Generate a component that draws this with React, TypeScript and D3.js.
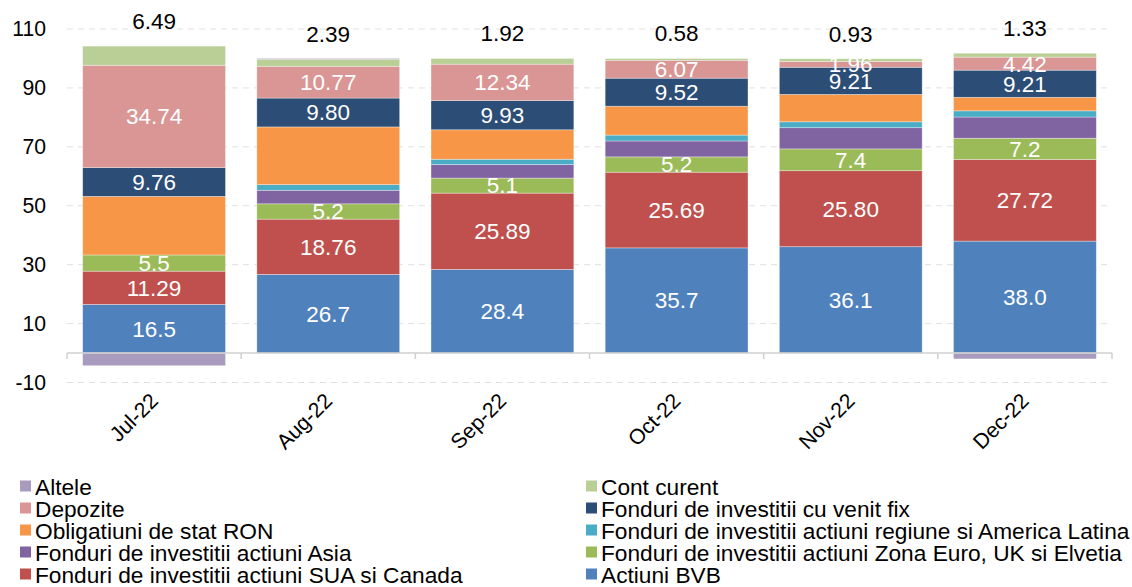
import React from "react";
import * as d3 from "d3";

const categories = ["Jul-22", "Aug-22", "Sep-22", "Oct-22", "Nov-22", "Dec-22"];

const seriesNames = [
  "Actiuni BVB",
  "Fonduri de investitii actiuni SUA si Canada",
  "Fonduri de investitii actiuni Zona Euro, UK si Elvetia",
  "Fonduri de investitii actiuni Asia",
  "Fonduri de investitii actiuni regiune si America Latina",
  "Obligatiuni de stat RON",
  "Fonduri de investitii cu venit fix",
  "Depozite",
  "Cont curent",
  "Altele",
];

const actiuniBVB = [16.5, 26.7, 28.4, 35.7, 36.1, 38.0];
const suaCanada = [11.29, 18.76, 25.89, 25.69, 25.8, 27.72];
const zonaEuro = [5.5, 5.2, 5.1, 5.2, 7.4, 7.2];
const asia = [0, 4.6, 4.6, 5.4, 7.2, 7.2];
const regiune = [0, 1.9, 1.8, 2.0, 2.0, 2.1];
const obligatiuni = [19.9, 19.6, 10.0, 9.8, 9.3, 4.6];
const venitFix = [9.76, 9.8, 9.93, 9.52, 9.21, 9.21];
const depozite = [34.74, 10.77, 12.34, 6.07, 1.96, 4.42];
const contCurent = [6.49, 2.39, 1.92, 0.58, 0.93, 1.33];
const altele = [-4.3, 0.3, 0, 0, 0, -2.0];

const yTicks = [-10, 10, 30, 50, 70, 90, 110];

const colors: Record<string, string> = {
  "Altele": "#a99bbd",
  "Cont curent": "#b9cf96",
  "Depozite": "#d99694",
  "Fonduri de investitii cu venit fix": "#2c4d75",
  "Obligatiuni de stat RON": "#f79646",
  "Fonduri de investitii actiuni regiune si America Latina": "#4bacc6",
  "Fonduri de investitii actiuni Asia": "#8064a2",
  "Fonduri de investitii actiuni Zona Euro, UK si Elvetia": "#9bbb59",
  "Fonduri de investitii actiuni SUA si Canada": "#c0504d",
  "Actiuni BVB": "#4f81bd",
};

const legendOrder = [
  "Altele", "Cont curent",
  "Depozite", "Fonduri de investitii cu venit fix",
  "Obligatiuni de stat RON", "Fonduri de investitii actiuni regiune si America Latina",
  "Fonduri de investitii actiuni Asia", "Fonduri de investitii actiuni Zona Euro, UK si Elvetia",
  "Fonduri de investitii actiuni SUA si Canada", "Actiuni BVB",
];

const seriesValues = [actiuniBVB, suaCanada, zonaEuro, asia, regiune, obligatiuni, venitFix, depozite, contCurent, altele];
// label decimals per series (null = no label)
const labelDecimals: (number | null)[] = [1, 2, 1, null, null, null, 2, 2, null, null];

const FONT = "Arial, 'Liberation Sans', sans-serif";

export default function App() {
  const W = 1132, H = 587;
  const x = d3.scaleBand<string>().domain(categories).range([67, 1112]).paddingInner(0.18).paddingOuter(0.09);
  const y = d3.scaleLinear().domain([-10, 110]).range([382.5, 29]);

  const rows = categories.map((c, i) => {
    const r: any = { cat: c };
    seriesNames.forEach((s, k) => (r[s] = seriesValues[k][i]));
    return r;
  });
  const stack = d3.stack<any>().keys(seriesNames).offset(d3.stackOffsetDiverging);
  const layers = stack(rows);

  const step = x.step();
  const boundaries = d3.range(categories.length + 1).map((i) => 67 + i * step);

  return (
    <svg width={W} height={H} style={{ display: "block", position: "absolute", left: 0, top: 0 }} fontFamily={FONT}>
      <rect width={W} height={H} fill="#fff" />
      {yTicks.map((t) => (
        <g key={t}>
          <line x1={67} x2={1112} y1={y(t)} y2={y(t)} stroke="#e0e0e0" strokeWidth={1} strokeDasharray="6,5" />
          <text x={46} y={y(t)} dy="0.35em" textAnchor="end" fontSize={21.2} fill="#000">{t}</text>
        </g>
      ))}
      {layers.map((layer, k) => (
        <g key={layer.key} fill={colors[layer.key]}>
          {layer.map((d, i) => {
            const y0 = y(d[0]), y1 = y(d[1]);
            const h = Math.abs(y0 - y1);
            if (h < 0.01) return null;
            return (
              <rect key={i} x={x(categories[i])} width={x.bandwidth()} y={Math.min(y0, y1)} height={h}
                stroke="#ffffff" strokeOpacity={0.45} strokeWidth={0.75} />
            );
          })}
        </g>
      ))}
      <line x1={67} x2={1112} y1={y(0)} y2={y(0)} stroke="#d0d0d0" strokeWidth={1.5} />
      {boundaries.map((b, i) => (
        <line key={i} x1={b} x2={b} y1={y(0)} y2={y(0) + 6} stroke="#d0d0d0" strokeWidth={1.5} />
      ))}
      {layers.map((layer, k) => {
        const dec = labelDecimals[k];
        if (dec === null) return null;
        return (
          <g key={layer.key}>
            {layer.map((d, i) => (
              <text key={i} x={(x(categories[i]) as number) + x.bandwidth() / 2} y={(y(d[0]) + y(d[1])) / 2}
                dy="0.35em" textAnchor="middle" fontSize={22.5} fill="#fff">
                {seriesValues[k][i].toFixed(dec)}
              </text>
            ))}
          </g>
        );
      })}
      {layers[seriesNames.indexOf("Cont curent")].map((d, i) => (
        <text key={i} x={(x(categories[i]) as number) + x.bandwidth() / 2} y={y(d[1]) - 25}
          dy="0.35em" textAnchor="middle" fontSize={22.5} fill="#000">
          {contCurent[i].toFixed(2)}
        </text>
      ))}
      {categories.map((c) => {
        const cx = (x(c) as number) + x.bandwidth() / 2;
        const cy = 397;
        return (
          <text key={c} transform={`translate(${cx},${cy}) rotate(-45)`} textAnchor="end" dy="0.35em" fontSize={21.2} fill="#000">
            {c}
          </text>
        );
      })}
      {legendOrder.map((s, i) => {
        const col = i % 2, row = Math.floor(i / 2);
        const lx = col === 0 ? 20 : 586;
        const ly = 495 + row * 22;
        return (
          <g key={s}>
            <rect x={lx} y={ly - 14.5} width={11} height={11} fill={colors[s]} />
            <text x={lx + 15} y={ly} fontSize={22.7} fill="#000">{s}</text>
          </g>
        );
      })}
    </svg>
  );
}
